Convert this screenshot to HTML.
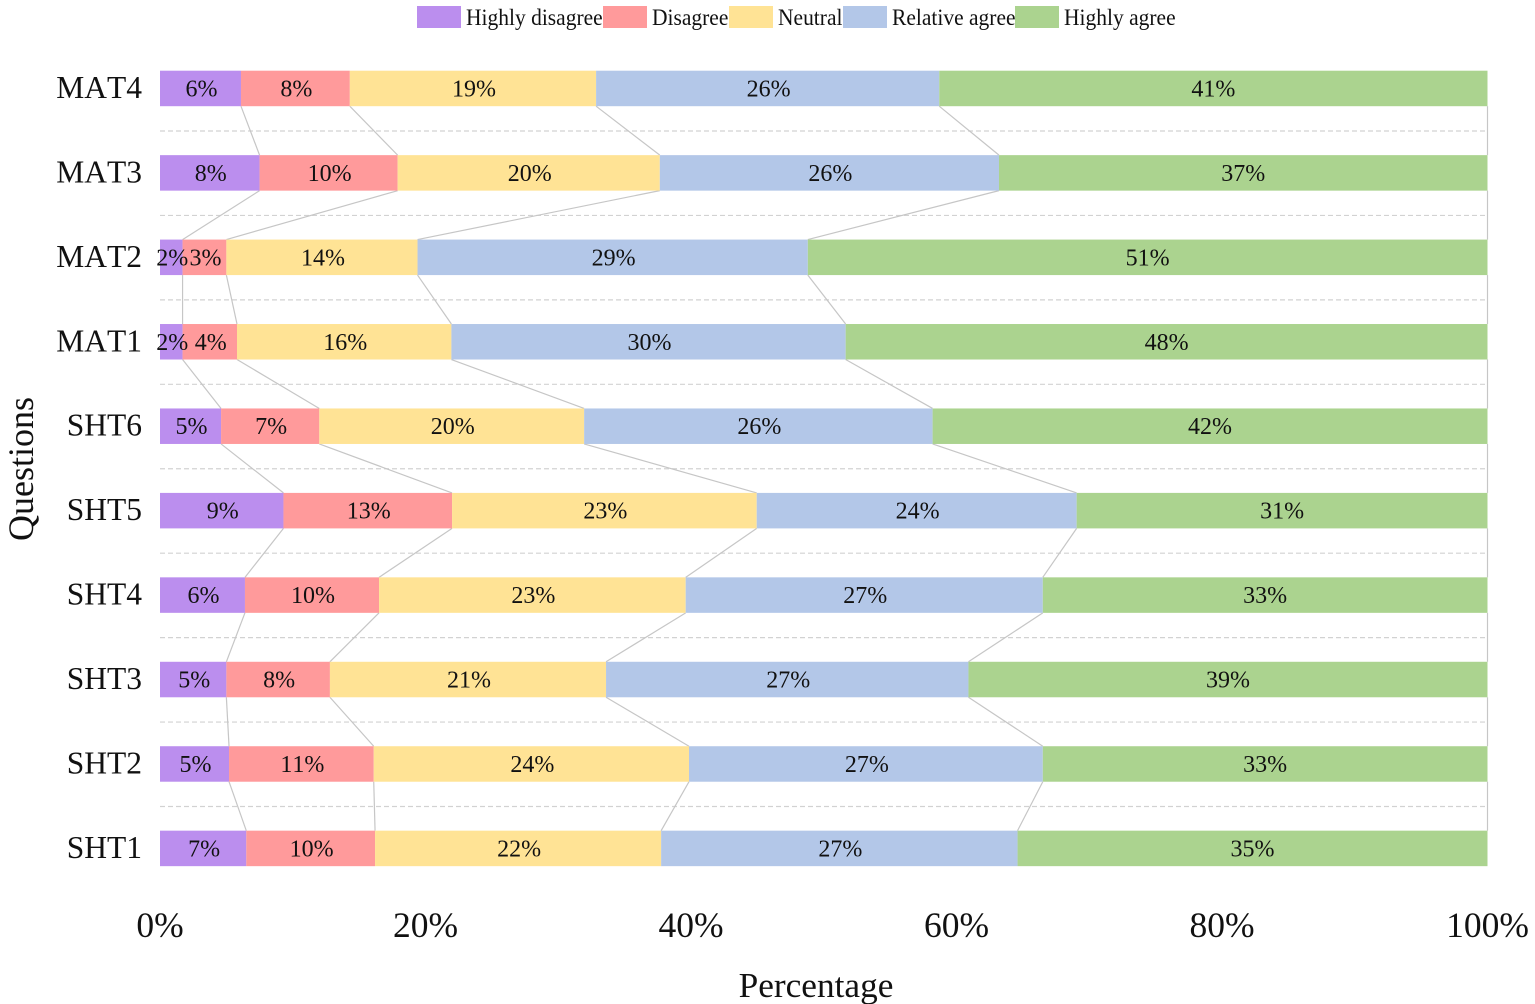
<!DOCTYPE html>
<html lang="en">
<head>
<meta charset="utf-8">
<title>Questions response percentage</title>
<style>
html,body{margin:0;padding:0;background:#fff;width:1535px;height:1004px;overflow:hidden}
svg{display:block;font-family:"Liberation Serif",serif;fill:#111;font-kerning:none}
</style>
</head>
<body>
<svg id="chart" xmlns="http://www.w3.org/2000/svg" width="1535" height="1004" viewBox="0 0 1535 1004">
  <text transform="translate(33,469) rotate(-90)" text-anchor="middle" font-size="36">Questions</text>
  <text x="816" y="997" text-anchor="middle" font-size="35.3">Percentage</text>
</svg>
<script>
const categories = ['MAT4','MAT3','MAT2','MAT1','SHT6','SHT5','SHT4','SHT3','SHT2','SHT1'];
const seriesNames = ['Highly disagree','Disagree','Neutral','Relative agree','Highly agree'];
const highlyDisagree = [6.1,7.5,1.7,1.7,4.6,9.3,6.4,5.0,5.2,6.5];
const disagree = [8.2,10.4,3.3,4.1,7.4,12.7,10.1,7.8,10.9,9.7];
const neutral = [18.55,19.75,14.4,16.15,19.95,22.95,23.1,20.8,23.75,21.55];
const relativeAgree = [25.85,25.55,29.4,29.7,26.25,24.1,26.9,27.3,26.65,26.85];
const highlyAgree = [41.3,36.8,51.2,48.35,41.8,30.95,33.5,39.1,33.5,35.4];
const labelsHighlyDisagree = [6,8,2,2,5,9,6,5,5,7];
const labelsDisagree = [8,10,3,4,7,13,10,8,11,10];
const labelsNeutral = [19,20,14,16,20,23,23,21,24,22];
const labelsRelativeAgree = [26,26,29,30,26,24,27,27,27,27];
const labelsHighlyAgree = [41,37,51,48,42,31,33,39,33,35];
const xTicks = [0,20,40,60,80,100];

const seriesValues = [highlyDisagree,disagree,neutral,relativeAgree,highlyAgree];
const seriesLabels = [labelsHighlyDisagree,labelsDisagree,labelsNeutral,labelsRelativeAgree,labelsHighlyAgree];
const seriesColors = ['#BB8EEE','#FF9A9B','#FFE395','#B3C7E8','#ABD38F'];
const legendSwatchX = [417,603,729,843,1015];

const svg = document.getElementById('chart');
const NS = 'http://www.w3.org/2000/svg';
const xScale = v => 160 + v * 13.275;
const yBarTop = i => 70.7 + i * 84.44;
const barHeight = 35.5;

function make(tag, attrs, text) {
  const el = document.createElementNS(NS, tag);
  for (const k in attrs) el.setAttribute(k, attrs[k]);
  if (text !== undefined) el.textContent = text;
  svg.appendChild(el);
  return el;
}

function cumulative(i) {
  const edges = [0];
  seriesValues.forEach(s => edges.push(edges[edges.length - 1] + s[i]));
  return edges;
}

// dashed separators
categories.slice(0, -1).forEach((c, i) => {
  const y = yBarTop(i) + 60.3;
  const line = make('line', {x1:160, x2:1487, y1:y, y2:y, stroke:'#d2d2d2', 'stroke-width':1.2, 'stroke-dasharray':'5 3'});
  
  
});

// connector lines between bars
categories.slice(0, -1).forEach((c, i) => {
  const a = cumulative(i), b = cumulative(i + 1);
  for (let s = 1; s <= seriesValues.length; s++) {
    const line = make('line', {x1:xScale(a[s]), y1:yBarTop(i) + barHeight, x2:xScale(b[s]), y2:yBarTop(i + 1), stroke:'#c6c6c6', 'stroke-width':1.2});
    
    
  }
});

// bars, value labels, category labels
categories.forEach((c, i) => {
  const edges = cumulative(i);
  const top = yBarTop(i);
  const mid = top + barHeight / 2;
  seriesValues.forEach((s, k) => {
    const x0 = xScale(edges[k]), x1 = xScale(edges[k + 1]);
    const rect = make('rect', {x:x0, y:top, width:x1 - x0, height:barHeight, fill:seriesColors[k]});
    
    
  });
  seriesValues.forEach((s, k) => {
    const x0 = xScale(edges[k]), x1 = xScale(edges[k + 1]);
    const nudge = k < seriesValues.length - 1 ? 1 : 0;
    const t = make('text', {x:(x0 + x1) / 2 + nudge, y:mid + 8, 'text-anchor':'middle', 'font-size':24}, seriesLabels[k][i] + '%');
    
    
  });
  const lab = make('text', {x:142, y:mid + 9.5, 'text-anchor':'end', 'font-size':31.5}, c);
  
  
});

// x tick labels
xTicks.forEach(v => {
  const t = make('text', {x:xScale(v), y:937, 'text-anchor':'middle', 'font-size':35.5}, v + '%');
  
  
});

// legend
seriesNames.forEach((n, k) => {
  const sw = make('rect', {x:legendSwatchX[k], y:6, width:44, height:22, fill:seriesColors[k]});
  
  
  const t = make('text', {transform:'translate(' + (legendSwatchX[k] + 49) + ',25) scale(0.915,1)', 'font-size':23.5}, n);
  
  
});
</script>
</body>
</html>
